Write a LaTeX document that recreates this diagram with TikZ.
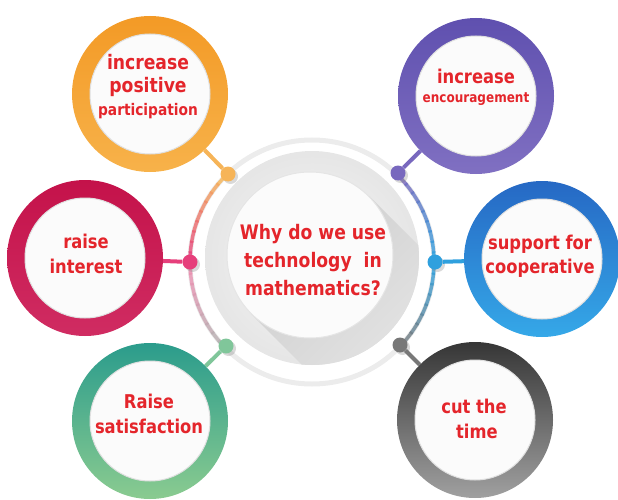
\documentclass[tikz,border=0pt]{standalone}
\usepackage{fontspec}
\newfontfamily\labelfont[FakeStretch=0.86]{DejaVu Sans}
\usetikzlibrary{shadows}

\definecolor{txtred}{HTML}{E4252B}
\definecolor{orangeA}{HTML}{F39A26}
\definecolor{orangeB}{HTML}{F7B24A}
\definecolor{purpleA}{HTML}{5F50AF}
\definecolor{purpleB}{HTML}{8070C2}
\definecolor{crimsonA}{HTML}{C4124A}
\definecolor{crimsonB}{HTML}{D02C62}
\definecolor{blueA}{HTML}{2668C4}
\definecolor{blueB}{HTML}{35A8E8}
\definecolor{greenA}{HTML}{2B9C8C}
\definecolor{greenB}{HTML}{8ACB90}
\definecolor{greyA}{HTML}{363636}
\definecolor{greyB}{HTML}{A0A0A0}
\definecolor{orangeDot}{HTML}{F6B458}
\definecolor{purpleDot}{HTML}{7868BE}
\definecolor{pinkDot}{HTML}{E63F7B}
\definecolor{blueDot}{HTML}{2FA0DE}
\definecolor{greenDot}{HTML}{80C69A}
\definecolor{greyDot}{HTML}{787878}

\newcommand\labsize[2]{\fontsize{#1}{#2}\selectfont}

\begin{document}
\begin{tikzpicture}
  [
    x=1pt, y=-1pt,
    ring/.style 2 args={circle, minimum size=156pt, inner sep=0pt, top color=#1, bottom color=#2,
      path picture={\fill[white!97!gray] (path picture bounding box.center) circle (60pt);
        \draw[gray!25, line width=1pt] (path picture bounding box.center) circle (60pt);}},
    dot/.style={circle, fill=#1, minimum size=15pt, inner sep=0pt,
      drop shadow={opacity=0.3, shadow xshift=2.5pt, shadow yshift=-2.5pt}},
    link/.style={draw=#1, line width=4pt},
    lab/.style={font=\labelfont\bfseries\labsize{19}{25}, text=txtred, align=center, inner sep=0pt},
    hubcore/.style={circle, minimum size=166pt, inner sep=0pt, fill=white!97!gray, draw=gray!20, line width=1pt},
    ringarc/.style={line width=3.5pt, opacity=0.8},
  ]
  \useasboundingbox (0,0) rectangle (618,500);

  % centre
  \coordinate (hub) at (312,262);
  \coordinate (hub-disk) at (312,258);
  \draw[gray!15, line width=5pt] (hub) circle (122);
  \foreach \i in {0,...,8}{
    \pgfmathsetmacro\p{100-12.5*\i}
    \draw[ringarc, orangeDot!\p!pinkDot] (hub) ++({225-5*\i}:122) arc[start angle={225-5*\i}, end angle={219-5*\i}, radius=122];
    \draw[ringarc, pinkDot!\p!gray!60] (hub) ++({180-5*\i}:122) arc[start angle={180-5*\i}, end angle={174-5*\i}, radius=122];
    \draw[ringarc, purpleDot!\p!blueDot] (hub) ++({-45+5*\i}:122) arc[start angle={-45+5*\i}, end angle={-39+5*\i}, radius=122];
    \draw[ringarc, blueDot!\p!greyDot] (hub) ++({5*\i}:122) arc[start angle={5*\i}, end angle={6+5*\i}, radius=122];
  }
  \shade[inner color=gray!6, outer color=gray!20] (hub-disk) circle (107);
  \begin{scope}
    \clip (hub-disk) circle (107);
    \shade[top color=gray!38, bottom color=gray!12, shading angle=45]
      (369,196) -- (251,314) -- (393,456) -- (511,338) -- cycle;
  \end{scope}
  \node[hubcore] (hub-core) at (310,255) {};
  \node[lab, font=\labelfont\bfseries\labsize{20}{28}] (hub-txt) at (313,260) {Why do we use\\ technology\ \ in\\ mathematics?};

  % satellites
  \node[ring={orangeA}{orangeB}] (part) at (150,94) {};
  \node[ring={purpleA}{purpleB}] (enc) at (476,96) {};
  \node[ring={crimsonA}{crimsonB}] (interest) at (85,258) {};
  \node[ring={blueA}{blueB}] (coop) at (542,259) {};
  \node[ring={greenA}{greenB}] (satis) at (150,421) {};
  \node[ring={greyA}{greyB}] (time) at (475,420) {};

  \node[lab, font=\labelfont\bfseries\labsize{20}{23}] (part-txt) at (148,87) {increase\\ positive\\ \labsize{16}{22}participation};
  \node[lab, font=\labelfont\bfseries\labsize{19}{19}] (enc-txt) at (476,87) {increase\\ \labsize{14}{19}encouragement};
  \node[lab] (interest-txt) at (86,254) {raise\\ interest};
  \node[lab, font=\labelfont\bfseries\labsize{19}{24}] (coop-txt) at (540,256) {support for\\ cooperative};
  \node[lab] (satis-txt) at (149,414) {Raise\\ satisfaction};
  \node[lab] (time-txt) at (474,419) {cut the\\ \ time};

  % dots on the ring
  \node[dot=orangeDot] (d-part) at (228,174) {};
  \node[dot=purpleDot] (d-enc) at (398,173) {};
  \node[dot=pinkDot] (d-interest) at (190,262) {};
  \node[dot=blueDot] (d-coop) at (435,262) {};
  \node[dot=greenDot] (d-satis) at (226,346) {};
  \node[dot=greyDot] (d-time) at (400,345) {};

  \draw[link=orangeDot] (d-part) -- (part);
  \draw[link=purpleDot] (d-enc) -- (enc);
  \draw[link=pinkDot] (d-interest) -- (interest);
  \draw[link=blueDot] (d-coop) -- (coop);
  \draw[link=greenDot] (d-satis) -- (satis);
  \draw[link=greyDot] (d-time) -- (time);
\end{tikzpicture}
\end{document}
